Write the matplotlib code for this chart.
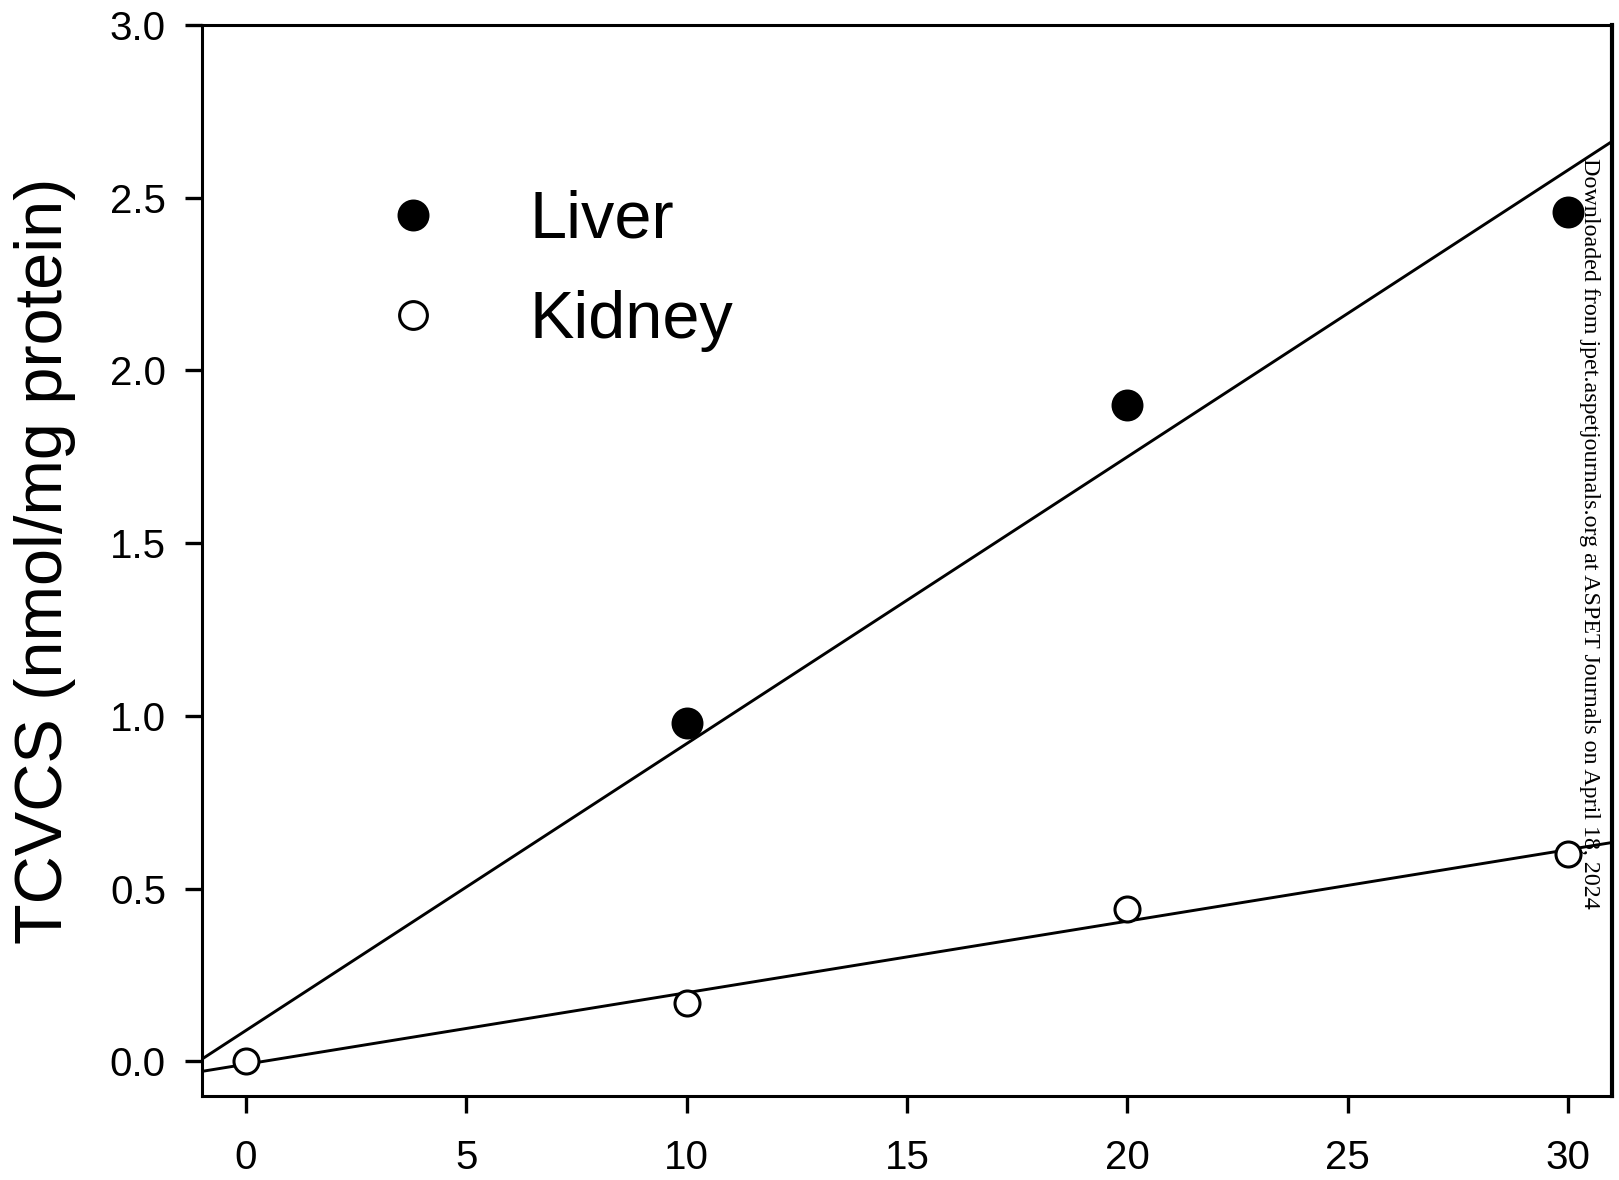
import numpy as np
import matplotlib
matplotlib.use('Agg')
import matplotlib.pyplot as plt

# data
time = [0, 10, 20, 30]
liver = [0.0, 0.98, 1.90, 2.46]
kidney = [0.0, 0.17, 0.44, 0.60]

plt.rcParams['font.family'] = ['Liberation Sans', 'DejaVu Sans']

fig = plt.figure(figsize=(16.19, 11.80), dpi=100)
ax = fig.add_axes([0.1248, 0.0712, 0.8709, 0.9076])

# linear fits, drawn across the whole x range
xl = np.array([-1, 31])
for y in (liver, kidney):
    p = np.polyfit(time, y, 1)
    ax.plot(xl, np.polyval(p, xl), color='black', lw=2.1, zorder=2)

# liver point at t=0 sits under the kidney marker, so only markers for t>0
ax.plot(time[1:], liver[1:], 'o', ms=21, color='black', mec='black', mew=2,
        label='Liver', zorder=3)
ax.plot(time, kidney, 'o', ms=18, mfc='white', mec='black', mew=2.2,
        label='Kidney', zorder=4)

ax.set_xlim(-1, 31)
ax.set_ylim(-0.1, 3.0)
ax.set_xticks([0, 5, 10, 15, 20, 25, 30])
ax.set_yticks([0.0, 0.5, 1.0, 1.5, 2.0, 2.5, 3.0])
ax.set_yticklabels(['0.0', '0.5', '1.0', '1.5', '2.0', '2.5', '3.0'])
ax.tick_params(axis='both', direction='out', length=12, width=2.4,
               labelsize=29, colors='black')
ax.tick_params(axis='x', pad=19)
ax.tick_params(axis='y', pad=14)
for s in ax.spines.values():
    s.set_linewidth(2.2)
ax.spines['right'].set_linewidth(3)

ax.set_ylabel('TCVCS (nmol/mg protein)', fontsize=48, labelpad=24)

leg = ax.legend(loc='upper left', bbox_to_anchor=(0.126, 0.846), frameon=False,
                fontsize=48, handlelength=1.0, handletextpad=1.25,
                labelspacing=0.57, borderaxespad=0, borderpad=0)
leg.legend_handles[1].set_markersize(20)

fig.text(0.982, 0.866, 'Downloaded from jpet.aspetjournals.org at ASPET Journals on April 18, 2024',
         rotation=-90, family='Liberation Serif', fontsize=17.3,
         ha='center', va='top')

fig.savefig('out.png', dpi=100, facecolor='white')
